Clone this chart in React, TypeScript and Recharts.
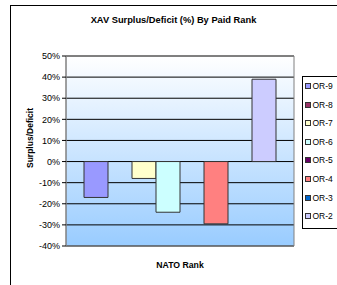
import { BarChart, Bar, XAxis, YAxis, CartesianGrid, ReferenceArea } from "recharts";

// one category, eight paid ranks
const ranks = ["OR-9", "OR-8", "OR-7", "OR-6", "OR-5", "OR-4", "OR-3", "OR-2"];
const surplus = [-17, null, -8, -24, null, -29.5, null, 39];
const yTicks = [-40, -30, -20, -10, 0, 10, 20, 30, 40, 50];

const palette: Record<string, string> = {
  "OR-9": "#9999FF",
  "OR-8": "#993366",
  "OR-7": "#FFFFCC",
  "OR-6": "#CCFFFF",
  "OR-5": "#660066",
  "OR-4": "#FF8080",
  "OR-3": "#0066CC",
  "OR-2": "#CCCCFF",
};

const row: Record<string, any> = { name: "" };
ranks.forEach((r, i) => {
  row[r] = surplus[i];
});
const chartData = [row];

const font = "'Liberation Sans', Arial, sans-serif";

export default function App() {
  return (
    <div
      style={{
        position: "absolute",
        left: 0,
        top: 0,
        width: 337,
        height: 285,
        overflow: "hidden",
        background: "#fff",
        fontFamily: font,
      }}
    >
      {/* outer chart frame */}
      <div
        style={{
          position: "absolute",
          left: 10,
          top: 5,
          width: 360,
          height: 300,
          border: "1px solid #000",
        }}
      />
      <div
        style={{
          position: "absolute",
          left: 0,
          width: 347,
          top: 15,
          textAlign: "center",
          fontSize: 9.3,
          fontWeight: "bold",
        }}
      >
        XAV Surplus/Deficit (%) By Paid Rank
      </div>
      <div
        style={{
          position: "absolute",
          left: 30,
          top: 138,
          transform: "translate(-50%, -50%) rotate(-90deg)",
          fontSize: 8.5,
          fontWeight: "bold",
          whiteSpace: "nowrap",
        }}
      >
        Surplus/Deficit
      </div>
      <div
        style={{
          position: "absolute",
          left: 80,
          width: 200,
          top: 260,
          textAlign: "center",
          fontSize: 8.7,
          fontWeight: "bold",
        }}
      >
        NATO Rank
      </div>

      <div style={{ position: "absolute", left: 0, top: 0 }}>
        <BarChart
          width={337}
          height={285}
          data={chartData}
          margin={{ top: 56, right: 43, bottom: 39, left: 0 }}
          barCategoryGap={18}
          barGap={0}
        >
          <defs>
            <linearGradient id="plotBg" x1="0" y1="0" x2="0" y2="1">
              <stop offset="0%" stopColor="#FFFFFF" />
              <stop offset="100%" stopColor="#99CCFF" />
            </linearGradient>
          </defs>
          <CartesianGrid
            vertical={false}
            stroke="#000"
            strokeWidth={1}
            fill="url(#plotBg)"
            fillOpacity={1}
          />
          <XAxis dataKey="name" tick={false} tickLine={false} axisLine={false} height={0} />
          <YAxis
            width={66}
            domain={[-40, 50]}
            ticks={yTicks}
            interval={0}
            tickFormatter={(v: number) => `${v}%`}
            tickSize={4}
            tickLine={{ stroke: "#000" }}
            axisLine={{ stroke: "#808080" }}
            tick={{ fontSize: 9, fill: "#000", fontFamily: font }}
          />
          <ReferenceArea y1={-40} y2={50} fill="none" stroke="#808080" strokeWidth={1} />
          {ranks.map((r) => (
            <Bar
              key={r}
              dataKey={r}
              fill={palette[r]}
              stroke="#333"
              strokeWidth={1}
              isAnimationActive={false}
            />
          ))}
        </BarChart>
      </div>

      {/* legend box */}
      <div
        style={{
          position: "absolute",
          left: 302,
          top: 76,
          width: 60,
          height: 151,
          border: "1px solid #000",
          background: "#fff",
        }}
      >
        {ranks.map((r, i) => (
          <div
            key={r}
            style={{
              position: "absolute",
              left: 2,
              top: 4 + i * 18.6,
              display: "flex",
              alignItems: "center",
              fontSize: 8.5,
              lineHeight: "10px",
              whiteSpace: "nowrap",
            }}
          >
            <span
              style={{
                display: "inline-block",
                width: 4,
                height: 4,
                background: palette[r],
                border: "1px solid #333",
                marginRight: 1.5,
              }}
            />
            {r}
          </div>
        ))}
      </div>
    </div>
  );
}
